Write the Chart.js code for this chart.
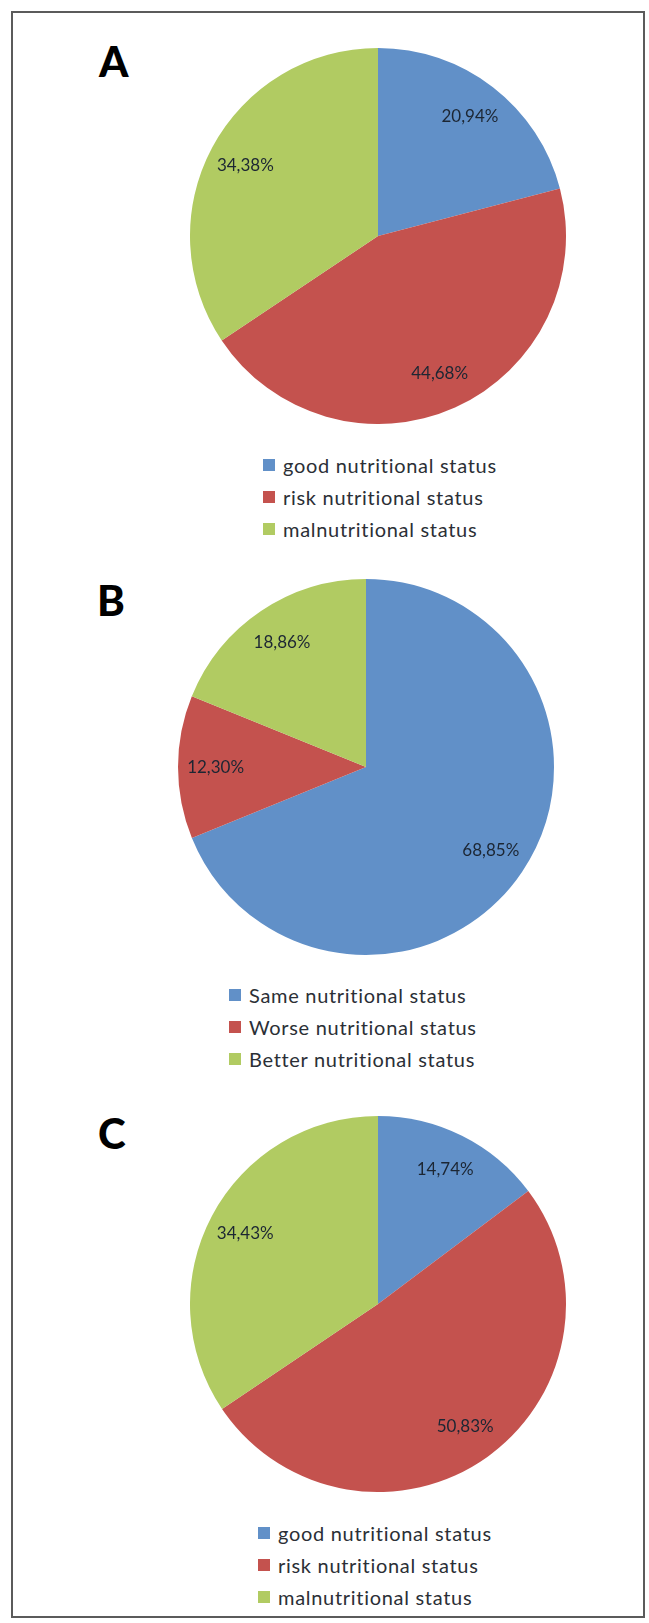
<!DOCTYPE html>
<html>
<head>
<meta charset="utf-8">
<title>Nutritional status</title>
<script src="https://cdn.jsdelivr.net/npm/chart.js@4.4.1/dist/chart.umd.min.js"></script>
<style>
  html, body { margin: 0; padding: 0; background: #fff; }
  body { width: 649px; height: 1623px; position: relative; overflow: hidden; font-family: Lato, "Open Sans", sans-serif; }
  .frame { position: absolute; left: 11px; top: 11px; width: 634px; height: 1607px; border: 2px solid #5b5b5b; box-sizing: border-box; }
  .letter { position: absolute; font: 900 42px/1 Lato, sans-serif; color: #000; }
  .pie { position: absolute; }
  .legend { position: absolute; list-style: none; margin: 0; padding: 0; font: 20px Lato, sans-serif; letter-spacing: 0.7px; color: #2b2f36; }
  .legend li { height: 32px; display: flex; align-items: center; white-space: nowrap; }
  .legend .sw { width: 12px; height: 12px; margin-right: 8px; flex: none; }
</style>
</head>
<body>
<div class="frame"></div>
<div id="panels"></div>
<script>
// Panel A: nutritional status at baseline
const categoriesA = ['good nutritional status', 'risk nutritional status', 'malnutritional status'];
const valuesA = [20.94, 44.68, 34.38];

// Panel B: change in nutritional status
const categoriesB = ['Same nutritional status', 'Worse nutritional status', 'Better nutritional status'];
const valuesB = [68.85, 12.30, 18.86];

// Panel C: nutritional status at follow-up
const categoriesC = ['good nutritional status', 'risk nutritional status', 'malnutritional status'];
const valuesC = [14.74, 50.83, 34.43];

const panelLetters = ['A', 'B', 'C'];
const sliceColors = ['#6190c8', '#c4524e', '#b1cb62'];

// Placement of each panel on the page
const layout = [
  { cx: 378, cy: 236, r: 188, letterX: 99, letterY: 40, legendX: 263, legendY: 449 },
  { cx: 366, cy: 767, r: 188, letterX: 97, letterY: 579, legendX: 229, legendY: 979 },
  { cx: 378, cy: 1304, r: 188, letterX: 98, letterY: 1112, legendX: 258, legendY: 1517 }
];

const panelData = [
  { labels: categoriesA, values: valuesA },
  { labels: categoriesB, values: valuesB },
  { labels: categoriesC, values: valuesC }
];

// Writes each slice's percentage inside it, along the slice's middle angle
const sliceValueLabels = {
  id: 'sliceValueLabels',
  afterDatasetsDraw(chart) {
    const ctx = chart.ctx;
    const meta = chart.getDatasetMeta(0);
    const values = chart.data.datasets[0].data;
    ctx.save();
    ctx.font = '17px Lato, sans-serif';
    ctx.fillStyle = '#1c2633';
    ctx.textAlign = 'center';
    ctx.textBaseline = 'middle';
    meta.data.forEach((arc, i) => {
      const p = arc.getProps(['x', 'y', 'startAngle', 'endAngle', 'outerRadius'], true);
      const mid = (p.startAngle + p.endAngle) / 2;
      const d = p.outerRadius * 0.8;
      const text = values[i].toFixed(2).replace('.', ',') + '%';
      ctx.fillText(text, p.x + Math.cos(mid) * d, p.y + Math.sin(mid) * d);
    });
    ctx.restore();
  }
};

const host = document.getElementById('panels');

panelData.forEach((panel, k) => {
  const L = layout[k];

  const letter = document.createElement('div');
  letter.className = 'letter';
  letter.textContent = panelLetters[k];
  letter.style.left = L.letterX + 'px';
  letter.style.top = L.letterY + 'px';
  host.appendChild(letter);

  const canvas = document.createElement('canvas');
  canvas.className = 'pie';
  canvas.width = L.r * 2;
  canvas.height = L.r * 2;
  canvas.style.left = (L.cx - L.r) + 'px';
  canvas.style.top = (L.cy - L.r) + 'px';
  canvas.style.width = (L.r * 2) + 'px';
  canvas.style.height = (L.r * 2) + 'px';
  host.appendChild(canvas);

  const chart = new Chart(canvas, {
    type: 'pie',
    data: {
      labels: panel.labels,
      datasets: [{
        data: panel.values,
        backgroundColor: sliceColors,
        borderWidth: 0,
        hoverBorderWidth: 0,
        hoverOffset: 0
      }]
    },
    options: {
      responsive: false,
      animation: false,
      devicePixelRatio: 1,
      events: [],
      layout: { padding: 0 },
      plugins: {
        legend: { display: false },
        tooltip: { enabled: false }
      }
    },
    plugins: [sliceValueLabels]
  });

  const ul = document.createElement('ul');
  ul.className = 'legend';
  ul.style.left = L.legendX + 'px';
  ul.style.top = L.legendY + 'px';
  chart.data.labels.forEach((name, i) => {
    const li = document.createElement('li');
    const sw = document.createElement('span');
    sw.className = 'sw';
    sw.style.background = chart.data.datasets[0].backgroundColor[i];
    const tx = document.createElement('span');
    tx.textContent = name;
    li.appendChild(sw);
    li.appendChild(tx);
    ul.appendChild(li);
  });
  host.appendChild(ul);
});
</script>
</body>
</html>
